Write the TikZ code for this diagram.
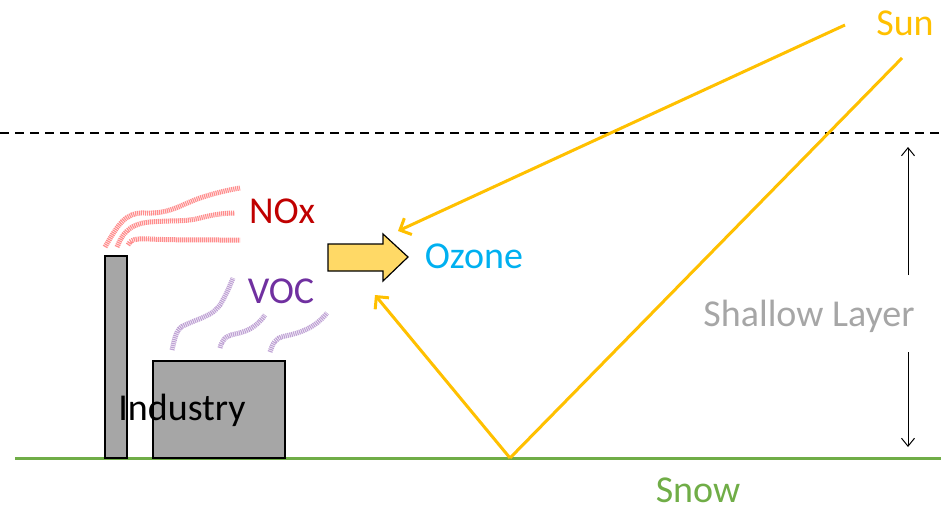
\documentclass[tikz,border=0pt]{standalone}
\usepackage{fontspec}
\setmainfont{Carlito}
\usetikzlibrary{arrows.meta}

\definecolor{sunyellow}{HTML}{FFC000}
\definecolor{snowgreen}{HTML}{70AD47}
\definecolor{noxred}{HTML}{C00000}
\definecolor{vocpurple}{HTML}{7030A0}
\definecolor{ozoneblue}{HTML}{00B0F0}
\definecolor{lightgray}{HTML}{A6A6A6}
\definecolor{arrowfill}{HTML}{FFD966}

\begin{document}
\begin{tikzpicture}[x=1pt, y=-1pt,
	lbl/.style={inner sep=0, anchor=base, font=\fontsize{38}{40}\selectfont},
	ray/.style={sunyellow, line width=3pt, -{Straight Barb[length=9pt, width=18pt]}},
	block/.style={draw=black, fill=lightgray, line width=1.3pt},
	plume/.style={line width=5pt, opacity=0.45, dash pattern=on 1.2pt off 0.8pt, line cap=butt}]

		\useasboundingbox (0,0) rectangle (941,509);

		% layer top and ground
		\draw[dashed, line width=1.5pt, dash pattern=on 9pt off 6pt] (0,133) -- (941,133);
		\draw[snowgreen, line width=3pt] (15,458) -- (941,458);

		% labels
		\node[lbl, text=sunyellow] (sun) at (905,35) {Sun};
		\node[lbl, text=noxred] (nox) at (282,223) {NOx};
		\node[lbl, text=vocpurple] (voc) at (281,303) {VOC};
		\node[lbl, text=ozoneblue] (ozone) at (474,268) {Ozone};
		\node[lbl, text=lightgray] (layer) at (809,326) {Shallow Layer};
		\node[lbl, text=snowgreen] (snow) at (698,502) {Snow};

		% factory
		\draw[block] (105,256) rectangle (127,458);
		\draw[block] (153,361) rectangle (285,458);
		\node[lbl] (industry) at (182,420) {Industry};

		% NOx plumes
		\draw[plume, red] (105,247) .. controls (118,225) and (125,212) .. (145,213)
			.. controls (170,214) and (180,205) .. (200,198) .. controls (215,193) and (228,190) .. (240,188);
		\draw[plume, red] (117,247) .. controls (122,235) and (128,224) .. (150,222)
			.. controls (175,220) and (185,222) .. (200,218) .. controls (212,215) and (222,213) .. (235,213);
		\draw[plume, red] (128,245) .. controls (130,240) and (135,238) .. (150,239)
			.. controls (170,240) and (200,240) .. (240,240);

		% VOC plumes
		\draw[plume, vocpurple] (172,350) .. controls (175,338) and (176,328) .. (185,325)
			.. controls (200,318) and (212,316) .. (220,305) .. controls (226,295) and (229,288) .. (233,278);
		\draw[plume, vocpurple] (220,348) .. controls (222,340) and (225,336) .. (235,334)
			.. controls (250,331) and (258,325) .. (265,315);
		\draw[plume, vocpurple] (270,352) .. controls (273,343) and (275,338) .. (285,336)
			.. controls (300,333) and (315,328) .. (327,313);

		% reaction arrow
		\draw[line width=1.2pt, fill=arrowfill, line join=miter]
			(328,244) -- (383,244) -- (383,234) -- (408,257) -- (383,281) -- (383,271) -- (328,271) -- cycle;

		% sunlight, direct and reflected from the snow
		\coordinate (ray1) at (845,25);
		\coordinate (ray2) at (902,58);
		\coordinate (bounce) at (510,458);
		\draw[ray] (ray1) -- (398,231);
		\draw[ray, -] (ray2) -- (bounce);
		\draw[ray] (bounce) -- (375,295);

		% height of the layer
		\draw[-{Straight Barb[length=8pt, width=13pt]}, line width=1pt] (908,275) -- (908,147);
		\draw[-{Straight Barb[length=8pt, width=13pt]}, line width=1pt] (908,352) -- (908,447);

\end{tikzpicture}
\end{document}
